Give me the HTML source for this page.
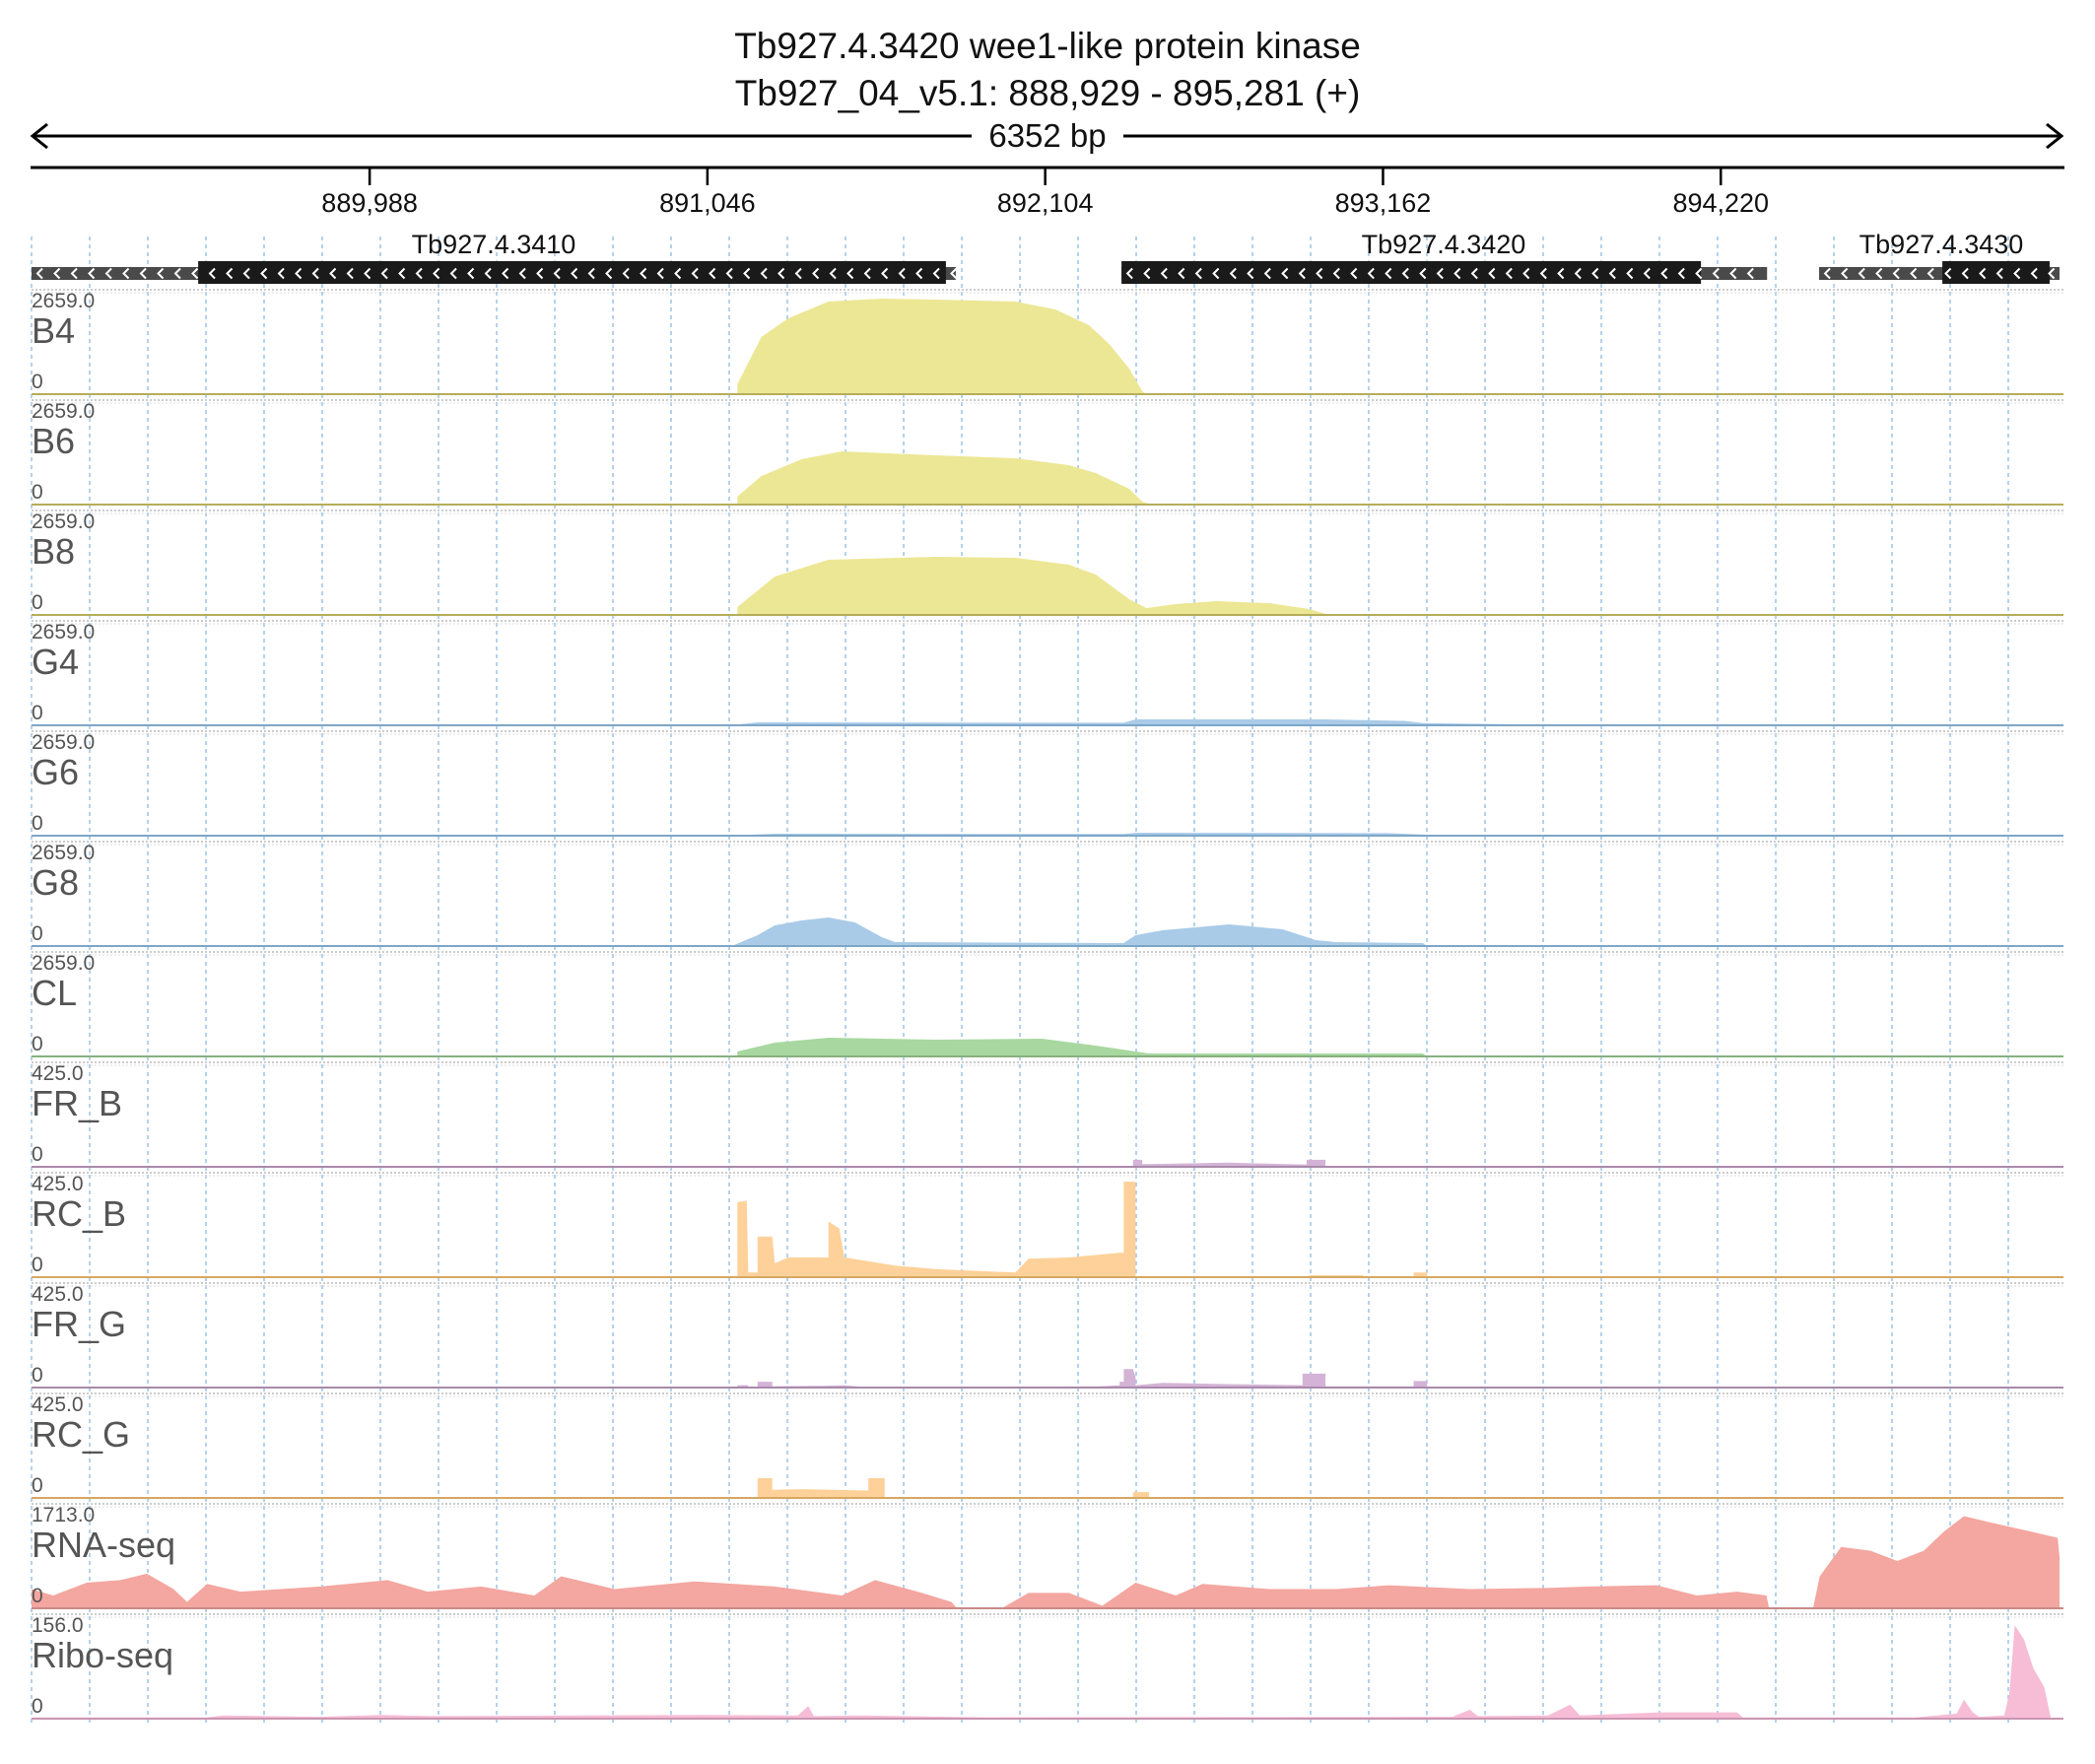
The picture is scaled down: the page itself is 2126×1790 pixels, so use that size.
<!DOCTYPE html>
<html><head><meta charset="utf-8"><style>
body{margin:0;background:#fff}
svg text{font-family:"Liberation Sans",sans-serif}
</style></head><body>
<svg id="chart" width="2126" height="1785" viewBox="0 0 2126 1785" xmlns="http://www.w3.org/2000/svg">
<g id="grid"></g>
<text x="1063" y="59" text-anchor="middle" font-size="37" fill="#111">Tb927.4.3420  wee1-like protein kinase</text>
<text x="1063" y="107" text-anchor="middle" font-size="37" fill="#111">Tb927_04_v5.1: 888,929 - 895,281 (+)</text>
<g>
<line x1="33" y1="138" x2="2092" y2="138" stroke="#000" stroke-width="3"/>
<polyline points="48,126 33,138 48,150" fill="none" stroke="#000" stroke-width="3"/>
<polyline points="2077,126 2092,138 2077,150" fill="none" stroke="#000" stroke-width="3"/>
<rect x="986" y="120" width="154" height="36" fill="#fff"/>
<text x="1063" y="149" text-anchor="middle" font-size="33" fill="#111">6352 bp</text>
</g>
<line x1="31" y1="170" x2="2095" y2="170" stroke="#000" stroke-width="3"/>
<g id="ticks"></g>
<g id="genes"></g>
<g id="tracks"></g>
</svg>
<script>
const NS="http://www.w3.org/2000/svg";
const START=888929, SPAN=6352, X0=32, XW=2058;
const tickLabels=["889,988","891,046","892,104","893,162","894,220"];
const tickPositions=[889988,891046,892104,893162,894220];
const trackNames=["B4","B6","B8","G4","G6","G8","CL","FR_B","RC_B","FR_G","RC_G","RNA-seq","Ribo-seq"];
const trackMax=[2659,2659,2659,2659,2659,2659,2659,425,425,425,425,1713,156];
const trackMaxLabels=["2659.0","2659.0","2659.0","2659.0","2659.0","2659.0","2659.0","425.0","425.0","425.0","425.0","1713.0","156.0"];
const b4Pos=[2211,2211,2245,2286,2370,2496,2663,2831,3082,3207,3312,3375,3438,3479,3492];
const b4Val=[0,266,851,1542,2047,2500,2579,2553,2500,2287,1861,1356,691,80,0];
const b6Pos=[2211,2211,2286,2412,2538,2831,3082,3249,3333,3438,3479,3500,4358,4371];
const b6Val=[0,213,771,1223,1436,1330,1250,1064,851,425,80,27,27,0];
const b8Pos=[2211,2211,2328,2496,2831,3082,3249,3333,3438,3492,3584,3709,3877,4002,4065];
const b8Val=[0,213,1037,1489,1569,1542,1356,1090,425,186,292,372,319,160,0];
const g4Pos=[0,2200,2274,3420,3458,4050,4300,4358,4693,4760];
const g4Val=[13,13,80,70,160,160,120,60,20,0];
const g6Pos=[0,2200,2328,3420,3458,4250,4358,4400];
const g6Val=[8,8,53,45,80,70,30,0];
const g8Pos=[0,2200,2274,2328,2412,2496,2579,2663,2705,3420,3458,3542,3751,3919,4023,4086,4358,4371];
const g8Val=[27,27,292,558,691,771,638,239,106,80,292,425,585,452,160,106,80,0];
const clPos=[2211,2211,2328,2496,2831,3165,3333,3458,3500,4358,4371];
const clVal=[0,133,372,505,452,479,292,133,80,80,0];
const frbPos=[3450,3450,3479,3479,3500,3750,3981,3994,3994,4053,4053];
const frbVal=[0,30,30,12,12,18,10,10,30,30,0];
const rcbPos=[2211,2211,2240,2245,2274,2274,2320,2328,2370,2496,2496,2530,2546,2705,2831,3082,3123,3249,3408,3421,3421,3458,3458,4002,4002,4170,4170,4329,4329,4371,4371];
const rcbVal=[0,323,330,20,20,175,175,60,85,85,240,210,85,50,35,20,80,85,105,105,412,412,0,0,8,8,0,0,20,20,0];
const frgPos=[2211,2211,2245,2245,2274,2274,2320,2320,2496,2546,2600,3350,3408,3408,3421,3421,3450,3458,3458,3500,3542,3750,3981,3981,3994,3994,4053,4053,4170,4329,4329,4371,4371];
const frgVal=[0,10,10,3,3,25,25,5,8,10,3,5,10,25,25,80,80,45,10,15,20,15,10,60,60,60,60,5,5,5,28,28,0];
const rcgPos=[2274,2274,2320,2320,2412,2621,2621,2672,2672,3450,3450,3500,3500];
const rcgVal=[0,85,85,35,38,32,85,85,0,0,25,25,0];
const rnaPos=[0,68,173,278,361,445,487,550,654,905,1115,1240,1408,1575,1659,1826,2077,2328,2538,2642,2789,2881,2898,3040,3123,3249,3354,3458,3584,3668,3877,4086,4253,4505,4756,4881,5090,5216,5342,5434,5442,5580,5601,5668,5760,5844,5927,5990,6053,6137,6262,6346,6352];
const rnaVal=[334,223,445,490,601,334,111,423,289,378,490,289,378,223,556,334,467,378,223,490,267,111,5,5,267,267,45,445,223,423,334,334,400,334,356,378,400,223,289,223,5,5,556,1068,1001,823,1001,1335,1602,1491,1335,1224,890];
const riboPos=[0,550,600,900,1100,1250,2100,2400,2433,2450,2600,3000,4450,4505,4530,4750,4819,4850,5100,5342,5360,5900,6030,6053,6080,6100,6179,6195,6212,6241,6270,6304,6325,6352];
const riboVal=[2,2,5,3,6,4,6,5,20,4,5,2,3,14,4,5,22,5,10,10,2,2,8,30,10,3,5,40,148,125,80,50,0,0];
const allPos=[b4Pos,b6Pos,b8Pos,g4Pos,g6Pos,g8Pos,clPos,frbPos,rcbPos,frgPos,rcgPos,rnaPos,riboPos];
const allVal=[b4Val,b6Val,b8Val,g4Val,g6Val,g8Val,clVal,frbVal,rcbVal,frgVal,rcgVal,rnaVal,riboVal];
const fills=["#ece795","#ece795","#ece795","#a9cbe8","#a9cbe8","#a9cbe8","#a8d8a0","#d4b4d6","#fdd199","#d4b4d6","#fdd199","#f4a6a0","#f7bcd6"];
const strokes=["#b5ad5a","#b5ad5a","#b5ad5a","#7ea6c8","#7ea6c8","#7ea6c8","#86b07e","#a98aab","#d6a862","#a98aab","#d6a862","#c98a86","#c996b0"];

function xOff(o){return X0+o*XW/SPAN;}
function xBp(bp){return xOff(bp-START);}
function el(tag,attrs,parent){const e=document.createElementNS(NS,tag);for(const k in attrs)e.setAttribute(k,attrs[k]);parent.appendChild(e);return e;}

const grid=document.getElementById('grid');
for(let x=32;x<=2095;x+=59){
  const l=el('line',{x1:x,y1:240,x2:x,y2:1752,stroke:'#9cc3e6','stroke-width':1.5,'stroke-dasharray':'4 4'},grid);
  
  
}
const ticks=document.getElementById('ticks');
tickPositions.forEach((p,i)=>{
  const x=xBp(p);
  const t=el('line',{x1:x,y1:170,x2:x,y2:188,stroke:'#000','stroke-width':2.5},ticks);
  
  
  const tx=el('text',{x:x,y:215,'text-anchor':'middle','font-size':27,fill:'#111'},ticks);
  tx.textContent=tickLabels[i];
  
  
});
const geneNames=["Tb927.4.3410","Tb927.4.3420","Tb927.4.3430"];
const geneUtr=[[888929,891824],[892343,894365],[894528,895281]];
const geneCds=[[889451,891793],[892343,894158],[894914,895250]];
const genes=document.getElementById('genes');
function chevrons(x1,x2,g){
  for(let x=x1+6;x<x2-4;x+=17.5){
    el('polyline',{points:(x+5)+',272.5 '+x+',277.5 '+(x+5)+',282.5',fill:'none',stroke:'#fff','stroke-width':2},g);
  }
}
geneNames.forEach((n,i)=>{
  const g=el('g',{},genes);
  
  
  const u1=xBp(geneUtr[i][0]),u2=xBp(geneUtr[i][1]);
  el('rect',{x:u1,y:271,width:u2-u1,height:13,fill:'#4a4a4a'},g);
  const c1=xBp(geneCds[i][0]),c2=xBp(geneCds[i][1]);
  el('rect',{x:c1,y:265,width:c2-c1,height:23,fill:'#1a1a1a'},g);
  chevrons(u1,u2,g);
  const lx=[501,1465,1970][i];
  const t=el('text',{x:lx,y:257,'text-anchor':'middle','font-size':27,fill:'#111'},g);
  t.textContent=n;
  
  
});
const tracks=document.getElementById('tracks');
trackNames.forEach((name,i)=>{
  const top=294+112*i, base=top+106, h=100;
  const g=el('g',{},tracks);
  
  
  el('line',{x1:32,y1:top,x2:2094,y2:top,stroke:'#bbb','stroke-width':1.5,'stroke-dasharray':'2 2'},g);
  el('line',{x1:32,y1:top+3,x2:2094,y2:top+3,stroke:'#ddd','stroke-width':1,'stroke-dasharray':'2 2'},g);
  const P=allPos[i],V=allVal[i],M=trackMax[i];
  let d='M'+xOff(P[0]).toFixed(1)+','+base;
  for(let k=0;k<P.length;k++){d+=' L'+xOff(P[k]).toFixed(1)+','+(base-Math.min(V[k],M)/M*h).toFixed(1);}
  d+=' L'+xOff(P[P.length-1]).toFixed(1)+','+base+' Z';
  const a=el('path',{d:d,fill:fills[i]},g);
  
  
  el('line',{x1:32,y1:base,x2:2094,y2:base,stroke:strokes[i],'stroke-width':2},g);
  const mx=el('text',{x:32,y:top+18,'font-size':21,fill:'#555'},g);
  mx.textContent=trackMaxLabels[i];
  
  
  const nm=el('text',{x:32,y:top+54,'font-size':36,fill:'#555'},g);
  nm.textContent=name;
  
  
  const z=el('text',{x:32,y:top+100,'font-size':21,fill:'#555'},g);
  z.textContent='0';
  
  
});
</script>
</body></html>
